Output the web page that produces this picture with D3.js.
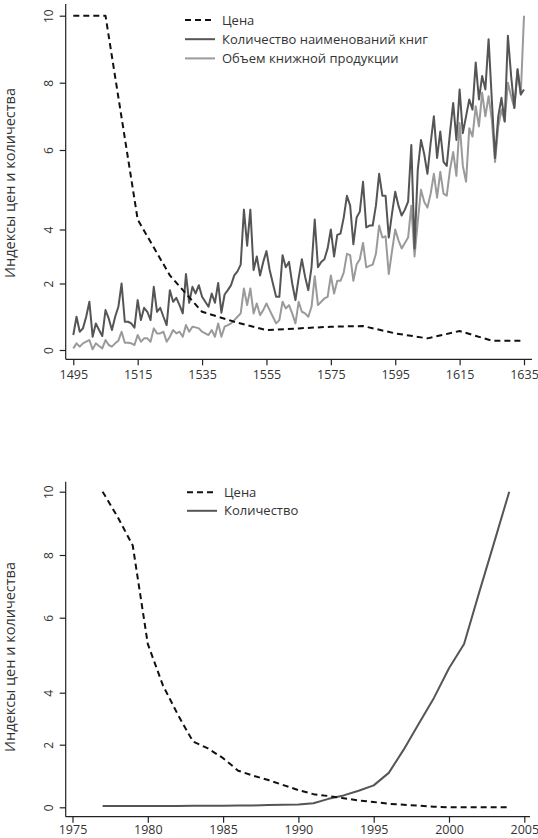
<!DOCTYPE html>
<html>
<head>
<meta charset="utf-8">
<script src="https://cdn.jsdelivr.net/npm/d3@7"></script>
<style>
  body { margin: 0; background: #fff; }
  text { font-family: "Open Sans", sans-serif; fill: #333; }
</style>
</head>
<body>
<div id="chart"></div>
<script>
// Top panel: books 1495-1635 (annual), price index given every 10 years
const bookYears = d3.range(1495, 1636);
const bookTitles = [
  0.45, 1.0, 0.55, 0.65, 1.0, 1.45, 0.4, 0.8, 0.6, 0.42,
  1.2, 0.95, 0.6, 1.0, 1.3, 2.0, 0.85, 0.85, 0.8, 0.67,
  1.5, 0.9, 1.27, 1.15, 0.9, 1.9, 1.15, 1.27, 1.0, 0.75,
  1.8, 1.45, 1.57, 1.35, 1.1, 2.35, 1.42, 1.9, 1.7, 1.95,
  1.6, 1.45, 1.3, 1.7, 1.42, 2.02, 1.12, 1.67, 1.8, 1.95,
  2.3, 2.45, 2.7, 4.5, 3.4, 4.5, 2.5, 3.0, 2.3, 2.8,
  3.2, 2.5, 2.0, 1.6, 1.6, 3.05, 2.6, 2.8, 2.0, 1.5,
  2.2, 2.9, 2.25, 1.8, 2.6, 4.25, 2.6, 2.8, 2.9, 3.3,
  4.0, 3.0, 3.8, 3.85, 4.3, 4.85, 4.6, 3.45, 4.3, 4.45,
  5.2, 4.05, 4.1, 4.1, 4.6, 5.4, 4.85, 4.85, 3.7, 4.4,
  4.95, 4.6, 4.35, 4.5, 4.7, 6.15, 3.3, 5.5, 6.3, 5.9,
  5.4, 6.2, 7.0, 5.8, 6.55, 5.7, 5.6, 6.5, 7.4, 6.3,
  7.8, 6.5, 7.0, 7.5, 7.2, 8.6, 7.5, 8.2, 7.8, 9.3,
  7.5, 5.8, 7.0, 7.55, 6.85, 9.4, 8.2, 7.25, 8.4, 7.65,
  7.8
];
const bookVolume = [
  0.05, 0.2, 0.1, 0.2, 0.25, 0.3, 0.02, 0.2, 0.12, 0.05,
  0.3, 0.15, 0.1, 0.2, 0.28, 0.55, 0.22, 0.22, 0.2, 0.15,
  0.45, 0.25, 0.35, 0.35, 0.25, 0.65, 0.5, 0.5, 0.55, 0.25,
  0.4, 0.6, 0.5, 0.55, 0.4, 0.75, 0.55, 0.7, 0.68, 0.65,
  0.55, 0.5, 0.45, 0.6, 0.4, 0.8, 0.4, 0.7, 0.75, 0.8,
  0.9, 1.0, 1.1, 1.85, 1.35, 1.85, 1.1, 1.4, 1.05, 1.2,
  1.4, 1.2, 1.0, 0.8, 0.9, 1.45, 1.25, 1.35, 1.1, 0.8,
  1.45, 1.15, 1.1, 1.0, 1.3, 2.27, 1.35, 1.45, 1.55, 1.6,
  2.3, 1.7, 2.1, 2.1, 2.4, 3.1, 3.05, 2.1, 2.7, 2.9,
  3.5, 2.6, 2.65, 2.7, 3.1, 4.1, 3.7, 3.75, 2.35, 3.2,
  4.0, 3.6, 3.3, 3.5, 3.7, 4.6, 3.0, 4.2, 5.0, 4.7,
  4.55, 4.9, 5.4, 4.8, 5.45, 4.9, 4.85, 5.5, 5.95, 5.35,
  6.8, 5.6, 5.2, 6.65, 6.4, 7.3, 6.7, 7.7, 7.0, 7.6,
  6.9, 5.7, 6.7, 7.2, 6.85, 8.0, 7.6, 7.25, 8.4, 7.65,
  10.0
];
const bookPriceYears = [1495, 1505, 1515, 1525, 1535, 1545, 1555, 1565, 1575, 1585, 1595, 1605, 1615, 1625, 1635];
const bookPrice = [10, 10, 4.25, 2.3, 1.15, 0.85, 0.6, 0.65, 0.7, 0.72, 0.5, 0.35, 0.57, 0.28, 0.28];
const topXTicks = [1495, 1515, 1535, 1555, 1575, 1595, 1615, 1635];

// Bottom panel: 1977-2004
const modernYears = d3.range(1977, 2005);
const modernPrice = [
  10, 9.2, 8.3, 5.3, 4.2, 3.15, 2.12, 1.88, 1.57, 1.17,
  1.01, 0.87, 0.71, 0.55, 0.42, 0.36, 0.29, 0.22, 0.17, 0.11,
  0.08, 0.05, 0.02, 0, 0, 0, 0, 0
];
const modernCount = [
  0.04, 0.04, 0.04, 0.04, 0.04, 0.04, 0.05, 0.05, 0.05, 0.06,
  0.06, 0.07, 0.08, 0.09, 0.13, 0.27, 0.38, 0.53, 0.7, 1.1,
  1.85, 2.82, 3.8, 4.65, 5.3, 6.8, 8.4, 10
];
const bottomXTicks = [1975, 1980, 1985, 1990, 1995, 2000, 2005];

const yTicks = [0, 2, 4, 6, 8, 10];
const yTitle = "Индексы цен и количества";

const W = 538, H = 838;
const svg = d3.select("#chart").append("svg")
    .attr("width", W)
    .attr("height", H);

const axisX = 65.7;

function drawPanel(p) {
    const g = svg.append("g");

    const x = d3.scaleLinear().domain(p.xDomain).range(p.xRange);
    // the printed y axis is not evenly spaced, so map tick by tick
    const y = d3.scaleLinear().domain(yTicks).range(p.yRange);

    // axis lines
    g.append("line")
        .attr("x1", axisX).attr("x2", axisX)
        .attr("y1", p.axisTop).attr("y2", p.axisY)
        .attr("stroke", "#222").attr("stroke-width", 1.2);
    g.append("line")
        .attr("x1", axisX).attr("x2", p.axisRight)
        .attr("y1", p.axisY).attr("y2", p.axisY)
        .attr("stroke", "#222").attr("stroke-width", 1.2);

    // x axis
    const xAxis = g.append("g")
        .attr("transform", `translate(0,${p.axisY})`)
        .call(d3.axisBottom(x).tickValues(p.xTicks).tickFormat(d3.format("d")).tickSize(6).tickPadding(p.xPad));
    xAxis.select(".domain").remove();
    xAxis.selectAll("line").attr("stroke", "#222").attr("stroke-width", 1.2);
    xAxis.selectAll("text").style("font-size", "12.5px").attr("fill", "#333");

    // y axis
    const yAxis = g.append("g")
        .attr("transform", `translate(${axisX},0)`)
        .call(d3.axisLeft(y).tickValues(yTicks).tickSize(6));
    yAxis.select(".domain").remove();
    yAxis.selectAll("line").attr("stroke", "#222").attr("stroke-width", 1.2);
    yAxis.selectAll("text")
        .attr("x", null).attr("dy", null)
        .attr("text-anchor", "middle")
        .attr("transform", "translate(-13,0) rotate(-90)")
        .style("font-size", "12px")
        .attr("fill", "#333");

    // y title
    g.append("text")
        .attr("transform", `translate(15,${p.titleY}) rotate(-90)`)
        .attr("text-anchor", "middle")
        .style("font-size", "14.5px")
        .text(yTitle);

    const line = d3.line()
        .x(d => x(d[0]))
        .y(d => y(d[1]));

    p.series.forEach(s => {
        g.append("path")
            .datum(d3.zip(s.years, s.values))
            .attr("fill", "none")
            .attr("stroke", s.color)
            .attr("stroke-width", s.width)
            .attr("stroke-dasharray", s.dash || null)
            .attr("stroke-linejoin", "round")
            .attr("d", line);
    });

    // legend (price drawn last so it sits on top in the plot, first in legend)
    const legend = g.append("g");
    p.series.slice().reverse().forEach((s, i) => {
        const ly = p.legendY + i * p.legendStep;
        legend.append("line")
            .attr("x1", p.legendX).attr("x2", p.legendX + 30)
            .attr("y1", ly).attr("y2", ly)
            .attr("stroke", s.color)
            .attr("stroke-width", s.width)
            .attr("stroke-dasharray", s.dash || null);
        legend.append("text")
            .attr("x", p.legendX + 37)
            .attr("y", ly + 4.5)
            .style("font-size", "13px")
            .text(s.name);
    });
}

drawPanel({
    xDomain: [1495, 1635], xRange: [73.3, 524],
    yRange: [350, 283.5, 229.5, 150, 82.7, 15.7],
    axisTop: 4, axisY: 359.3, axisRight: 532,
    xTicks: topXTicks, xPad: 5,
    titleY: 183,
    legendX: 185, legendY: 20, legendStep: 19.2,
    series: [
        { name: "Объем книжной продукции", years: bookYears, values: bookVolume, color: "#9a9a9a", width: 2 },
        { name: "Количество наименований книг", years: bookYears, values: bookTitles, color: "#555", width: 2 },
        { name: "Цена", years: bookPriceYears, values: bookPrice, color: "#111", width: 2, dash: "6,4" }
    ]
});

drawPanel({
    xDomain: [1975, 2005], xRange: [72.5, 524.3],
    yRange: [807.3, 744.7, 692.7, 617.7, 555, 491.7],
    axisTop: 481.7, axisY: 816.7, axisRight: 530,
    xTicks: bottomXTicks, xPad: 2,
    titleY: 657,
    legendX: 187, legendY: 492.3, legendStep: 18.5,
    series: [
        { name: "Количество", years: modernYears, values: modernCount, color: "#555", width: 2 },
        { name: "Цена", years: modernYears, values: modernPrice, color: "#111", width: 2, dash: "6,4" }
    ]
});
</script>
</body>
</html>
